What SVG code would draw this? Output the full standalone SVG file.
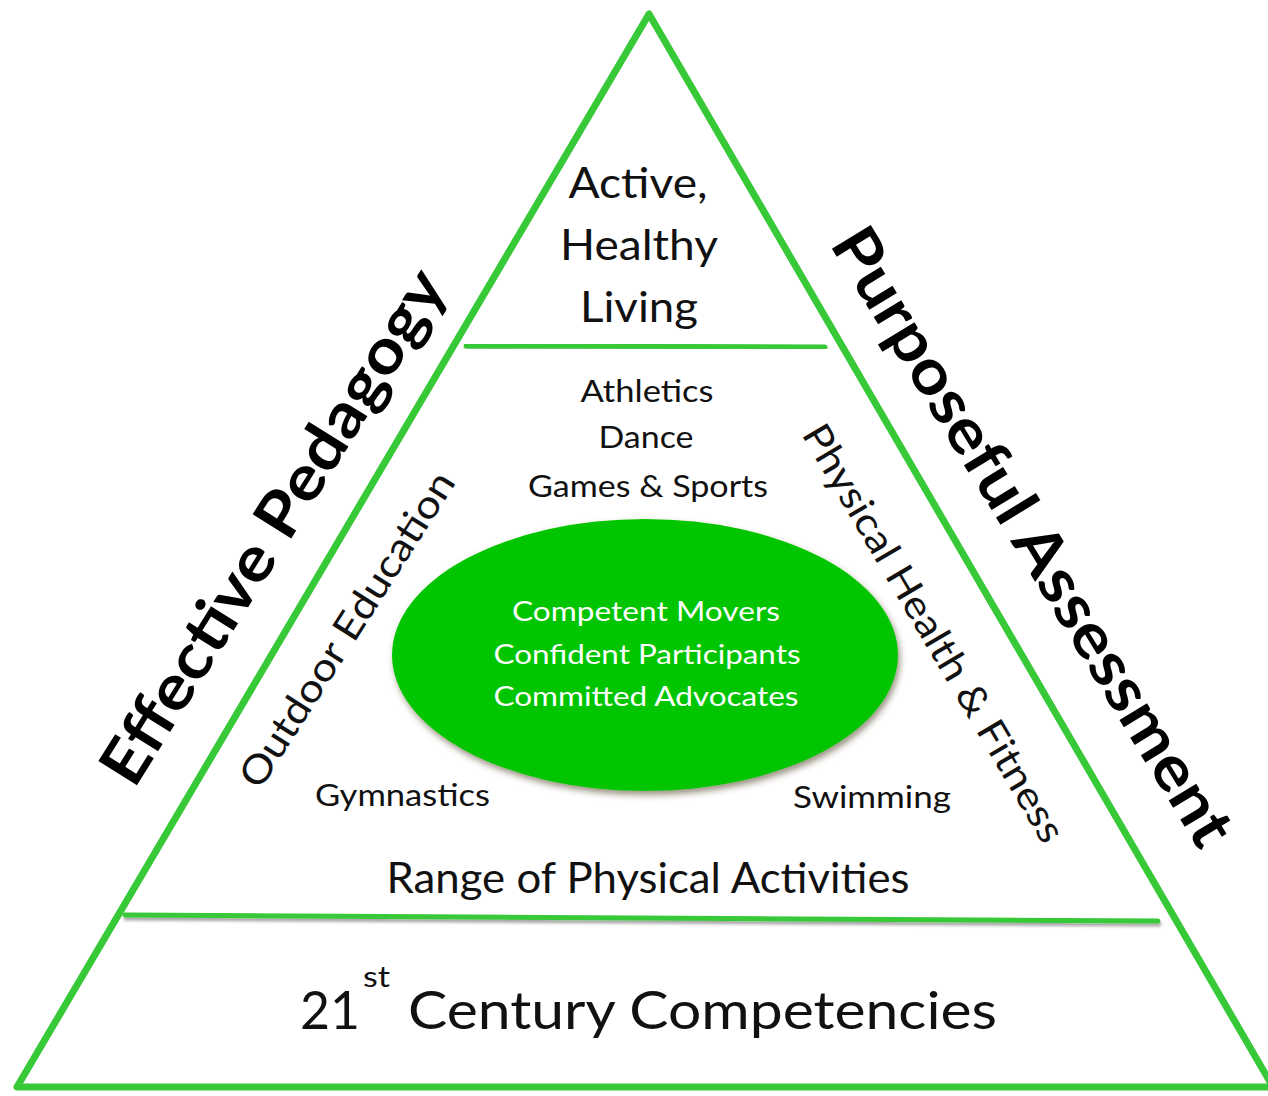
<svg xmlns="http://www.w3.org/2000/svg" width="1268" height="1096" viewBox="0 0 1268 1096">
  <defs>
    <style>
      .edge { fill: none; stroke: #38c938; stroke-width: 7; stroke-linejoin: round; stroke-linecap: round; }
      .tier { fill: none; stroke: #38c938; stroke-width: 5; stroke-linecap: round; }
      .txt { font-family: Lato, "Open Sans", "Liberation Sans", sans-serif; fill: #111; }
      .bold { font-weight: 700; fill: #000; }
      .core { font-family: Lato, "Open Sans", "Liberation Sans", sans-serif; fill: #fff; font-size: 27px; text-anchor: middle; }
      .mid { text-anchor: middle; }
    </style>
    <filter id="lineShadow" x="-5%" y="-200%" width="110%" height="500%">
      <feDropShadow dx="1" dy="3" stdDeviation="1.5" flood-color="#000" flood-opacity="0.35"/>
    </filter>
    <filter id="ovalShadow" x="-10%" y="-10%" width="125%" height="130%">
      <feDropShadow dx="2" dy="4" stdDeviation="3" flood-color="#4a3a20" flood-opacity="0.55"/>
    </filter>
  </defs>

  <rect width="1268" height="1096" fill="#fff"/>

  <!-- pyramid outline and tier dividers -->
  <g id="connectors">
    <polygon class="edge" points="649,14 17,1087 1273,1087"/>
    <line class="tier" x1="466" y1="346" x2="825" y2="347" filter="url(#lineShadow)"/>
    <line class="tier" x1="125" y1="915" x2="1158" y2="921" filter="url(#lineShadow)"/>
  </g>

  <!-- top tier -->
  <g id="active-healthy-living" class="txt mid" font-size="42">
    <text x="638" y="198" textLength="139" lengthAdjust="spacingAndGlyphs">Active,</text>
    <text x="639" y="260" textLength="158" lengthAdjust="spacingAndGlyphs">Healthy</text>
    <text x="639" y="322" textLength="118" lengthAdjust="spacingAndGlyphs">Living</text>
  </g>

  <!-- activity list -->
  <g id="activities-top" class="txt mid" font-size="30">
    <text x="647" y="402" textLength="133" lengthAdjust="spacingAndGlyphs">Athletics</text>
    <text x="646" y="448" textLength="95" lengthAdjust="spacingAndGlyphs">Dance</text>
    <text x="648" y="497" textLength="240" lengthAdjust="spacingAndGlyphs">Games &amp; Sports</text>
  </g>

  <!-- central oval -->
  <g id="core-outcomes">
    <ellipse cx="645" cy="655" rx="253" ry="136" fill="#06c506" filter="url(#ovalShadow)"/>
    <text class="core" x="646" y="621" textLength="268" lengthAdjust="spacingAndGlyphs">Competent Movers</text>
    <text class="core" x="647" y="664" textLength="307" lengthAdjust="spacingAndGlyphs">Confident Participants</text>
    <text class="core" x="646" y="706" textLength="305" lengthAdjust="spacingAndGlyphs">Committed Advocates</text>
  </g>

  <g id="gymnastics" class="txt" font-size="30">
    <text x="315" y="806" textLength="175" lengthAdjust="spacingAndGlyphs">Gymnastics</text>
  </g>
  <g id="swimming" class="txt" font-size="30">
    <text x="793" y="808" textLength="158" lengthAdjust="spacingAndGlyphs">Swimming</text>
  </g>

  <g id="outdoor-education" class="txt" font-size="39">
    <text transform="translate(260,791) rotate(-57.5)" textLength="366" lengthAdjust="spacingAndGlyphs">Outdoor Education</text>
  </g>
  <g id="physical-health" class="txt" font-size="39">
    <text transform="translate(801,434) rotate(59.5)" textLength="478" lengthAdjust="spacingAndGlyphs">Physical Health &amp; Fitness</text>
  </g>

  <g id="range" class="txt mid" font-size="42">
    <text x="648" y="893" textLength="523" lengthAdjust="spacingAndGlyphs">Range of Physical Activities</text>
  </g>

  <!-- base tier -->
  <g id="competencies" class="txt" font-size="52">
    <text x="300" y="1029" textLength="60" lengthAdjust="spacingAndGlyphs">21</text>
    <text x="363" y="987" font-size="28" textLength="27" lengthAdjust="spacingAndGlyphs">st</text>
    <text x="408" y="1029" textLength="589" lengthAdjust="spacingAndGlyphs">Century Competencies</text>
  </g>

  <!-- side labels -->
  <g id="effective-pedagogy" class="txt bold" font-size="63">
    <text transform="translate(134,790) rotate(-58)" textLength="594" lengthAdjust="spacingAndGlyphs">Effective Pedagogy</text>
  </g>
  <g id="purposeful-assessment" class="txt bold" font-size="63">
    <text transform="translate(829,244) rotate(58.6)" textLength="712" lengthAdjust="spacingAndGlyphs">Purposeful Assessment</text>
  </g>
</svg>
